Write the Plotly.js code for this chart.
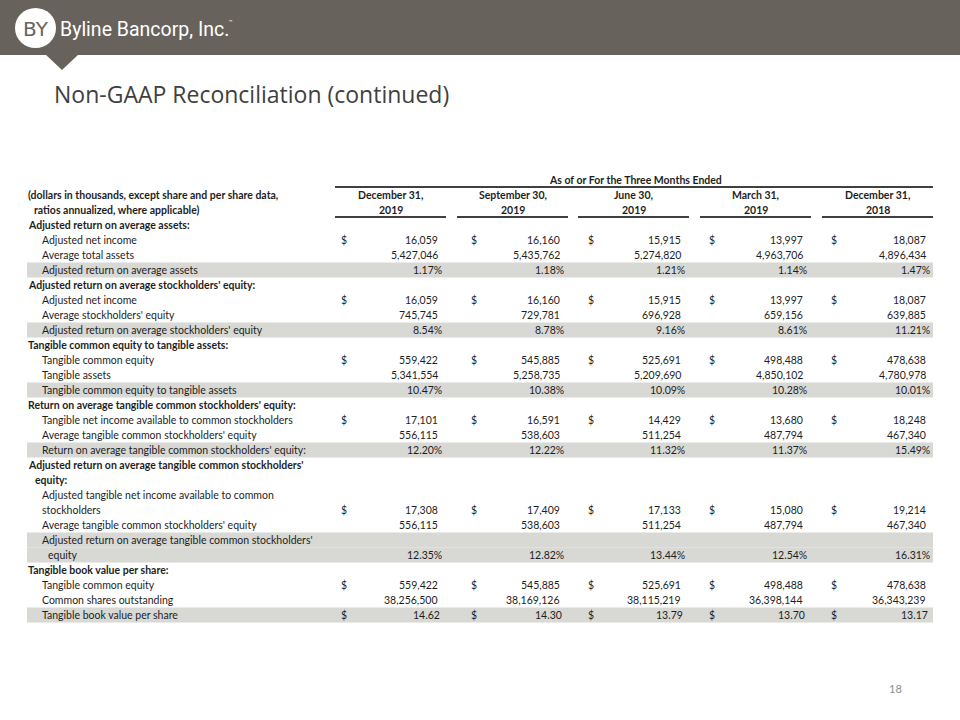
<!DOCTYPE html>
<html>
<head>
<meta charset="utf-8">
<script src="https://cdn.plot.ly/plotly-3.0.1.min.js"></script>
<style>html,body{margin:0;padding:0;background:#fff;}#chart{width:960px;height:720px;}</style>
</head>
<body>
<div id="chart"></div>
<script>
// ---------- DATA ----------
const rowLabels = [
  "Adjusted return on average assets:",
  "Adjusted net income",
  "Average total assets",
  "Adjusted return on average assets",
  "Adjusted return on average stockholders' equity:",
  "Adjusted net income",
  "Average stockholders' equity",
  "Adjusted return on average stockholders' equity",
  "Tangible common equity to tangible assets:",
  "Tangible common equity",
  "Tangible assets",
  "Tangible common equity to tangible assets",
  "Return on average tangible common stockholders' equity:",
  "Tangible net income available to common stockholders",
  "Average tangible common stockholders' equity",
  "Return on average tangible common stockholders' equity:",
  "Adjusted return on average tangible common stockholders'",
  "equity:",
  "Adjusted tangible net income available to common",
  "stockholders",
  "Average tangible common stockholders' equity",
  "Adjusted return on average tangible common stockholders'",
  "equity",
  "Tangible book value per share:",
  "Tangible common equity",
  "Common shares outstanding",
  "Tangible book value per share"
];
// h = section header, h2 = header continuation, i = item, s = shaded item, s2 = shaded continuation
const rowKinds = ["h","i","i","s","h","i","i","s","h","i","i","s","h","i","i","s","h","h2","i","i","i","s","s2","h","i","i","s"];
// int = thousands, pct = percent, ps = per share
const rowFormats = [null,"int","int","pct",null,"int","int","pct",null,"int","int","pct",null,"int","int","pct",null,null,null,"int","int",null,"pct",null,"int","int","ps"];
const dollarRows = [1,5,9,13,19,24,26];

const periodMonth = ["December 31,","September 30,","June 30,","March 31,","December 31,"];
const periodYear  = ["2019","2019","2019","2019","2018"];

const dec2019 = [null,16059,5427046,1.17,null,16059,745745,8.54,null,559422,5341554,10.47,null,17101,556115,12.20,null,null,null,17308,556115,null,12.35,null,559422,38256500,14.62];
const sep2019 = [null,16160,5435762,1.18,null,16160,729781,8.78,null,545885,5258735,10.38,null,16591,538603,12.22,null,null,null,17409,538603,null,12.82,null,545885,38169126,14.30];
const jun2019 = [null,15915,5274820,1.21,null,15915,696928,9.16,null,525691,5209690,10.09,null,14429,511254,11.32,null,null,null,17133,511254,null,13.44,null,525691,38115219,13.79];
const mar2019 = [null,13997,4963706,1.14,null,13997,659156,8.61,null,498488,4850102,10.28,null,13680,487794,11.37,null,null,null,15080,487794,null,12.54,null,498488,36398144,13.70];
const dec2018 = [null,18087,4896434,1.47,null,18087,639885,11.21,null,478638,4780978,10.01,null,18248,467340,15.49,null,null,null,19214,467340,null,16.31,null,478638,36343239,13.17];
const columns = [dec2019, sep2019, jun2019, mar2019, dec2018];

// ---------- LAYOUT CONSTANTS ----------
const FONT = 'Lato, "Noto Sans", sans-serif';
const TXT = '#1e1e1e';
const BANNER = '#67635c';
const SHADE = '#d8d8d5';
const rowY0 = 225, rowH = 15;
const colRight = [440, 562, 683, 805, 928];
const colDollar = [339, 469, 586, 707, 829];
const colLine = [[335,446],[457,568],[578,689],[700,811],[822,933]];
const indent = {h:26, h2:33, i:40, s:40, s2:46};
const fmtShift = {int:0, pct:4, ps:2};

function fmt(v, f){
  if (v === null || v === undefined) return null;
  if (f === 'int') return v.toLocaleString('en-US');
  if (f === 'pct') return v.toFixed(2) + '%';
  return v.toFixed(2);
}

const shapes = [];
const ann = [];

// banner
shapes.push({type:'rect', x0:0, x1:960, y0:0, y1:55, fillcolor:BANNER, line:{width:0}, layer:'below'});
shapes.push({type:'path', path:'M45,54 L79,54 L62,70 Z', fillcolor:BANNER, line:{width:0}, layer:'below'});
shapes.push({type:'circle', x0:15, x1:56, y0:8, y1:48, fillcolor:'#ffffff', line:{width:0}});
ann.push({x:36, y:29, text:'BY', font:{family:'"DejaVu Sans", sans-serif', size:20, color:BANNER}, xanchor:'center', yanchor:'middle', showarrow:false});
ann.push({x:58, y:29, text:'Byline Bancorp, Inc.', font:{family:'Roboto, sans-serif', size:19.5, color:'#ffffff'}, xanchor:'left', yanchor:'middle', showarrow:false});
ann.push({x:227, y:21, text:'™', font:{family:'Roboto, sans-serif', size:6, color:'#ffffff'}, xanchor:'left', yanchor:'middle', showarrow:false});

// title
ann.push({x:52, y:94, text:'Non-GAAP Reconciliation (continued)', font:{family:'"Open Sans", sans-serif', size:23, color:'#404040'}, xanchor:'left', yanchor:'middle', showarrow:false});

// table header
ann.push({x:635, y:180, text:'<b>As of or For the Three Months Ended</b>', font:{family:FONT, size:10.5, color:TXT}, xanchor:'center', yanchor:'middle', showarrow:false});
shapes.push({type:'line', x0:335, x1:933, y0:187, y1:187, line:{color:'#000', width:1.3}});
ann.push({x:26, y:195, text:'<b>(dollars in thousands, except share and per share data,</b>', font:{family:FONT, size:10.5, color:TXT}, xanchor:'left', yanchor:'middle', showarrow:false});
ann.push({x:32, y:210, text:'<b>ratios annualized, where applicable)</b>', font:{family:FONT, size:10.5, color:TXT}, xanchor:'left', yanchor:'middle', showarrow:false});
for (let c = 0; c < 5; c++){
  const cx = (colLine[c][0] + colLine[c][1]) / 2;
  ann.push({x:cx, y:195, text:'<b>'+periodMonth[c]+'</b>', font:{family:FONT, size:10.5, color:TXT}, xanchor:'center', yanchor:'middle', showarrow:false});
  ann.push({x:cx, y:210, text:'<b>'+periodYear[c]+'</b>', font:{family:FONT, size:10.5, color:TXT}, xanchor:'center', yanchor:'middle', showarrow:false});
  shapes.push({type:'line', x0:colLine[c][0], x1:colLine[c][1], y0:217, y1:217, line:{color:'#000', width:1.3}});
}

// rows
for (let r = 0; r < rowLabels.length; r++){
  const y = rowY0 + r * rowH;
  const k = rowKinds[r];
  if (k === 's' || k === 's2'){
    shapes.push({type:'rect', x0:27, x1:933, y0:y - rowH/2, y1:y + rowH/2, fillcolor:SHADE, line:{width:0}, layer:'below'});
  }
  const bold = (k === 'h' || k === 'h2');
  ann.push({x:indent[k], y:y, text: bold ? '<b>'+rowLabels[r]+'</b>' : rowLabels[r],
    font:{family:FONT, size:10.5, color:TXT}, xanchor:'left', yanchor:'middle', showarrow:false});
  const f = rowFormats[r];
  for (let c = 0; c < 5; c++){
    const s = fmt(columns[c][r], f);
    if (s === null) continue;
    ann.push({x:colRight[c] + fmtShift[f], y:y, text:s, font:{family:FONT, size:10.5, color:TXT}, xanchor:'right', yanchor:'middle', showarrow:false});
    if (dollarRows.indexOf(r) >= 0){
      ann.push({x:colDollar[c], y:y, text:'$', font:{family:FONT, size:10.5, color:TXT}, xanchor:'left', yanchor:'middle', showarrow:false});
    }
  }
}

// page number
ann.push({x:887, y:688, text:'18', font:{family:FONT, size:11, color:'#8c8c8c'}, xanchor:'left', yanchor:'middle', showarrow:false});

const layout = {
  width:960, height:720,
  margin:{l:0, r:0, t:0, b:0},
  paper_bgcolor:'#ffffff', plot_bgcolor:'#ffffff',
  xaxis:{range:[0,960], visible:false, fixedrange:true},
  yaxis:{range:[720,0], visible:false, fixedrange:true},
  showlegend:false,
  shapes:shapes,
  annotations:ann
};
Plotly.newPlot('chart', [{x:[], y:[], type:'scatter', mode:'markers', hoverinfo:'skip'}], layout, {displayModeBar:false, staticPlot:true});
</script>
</body>
</html>
